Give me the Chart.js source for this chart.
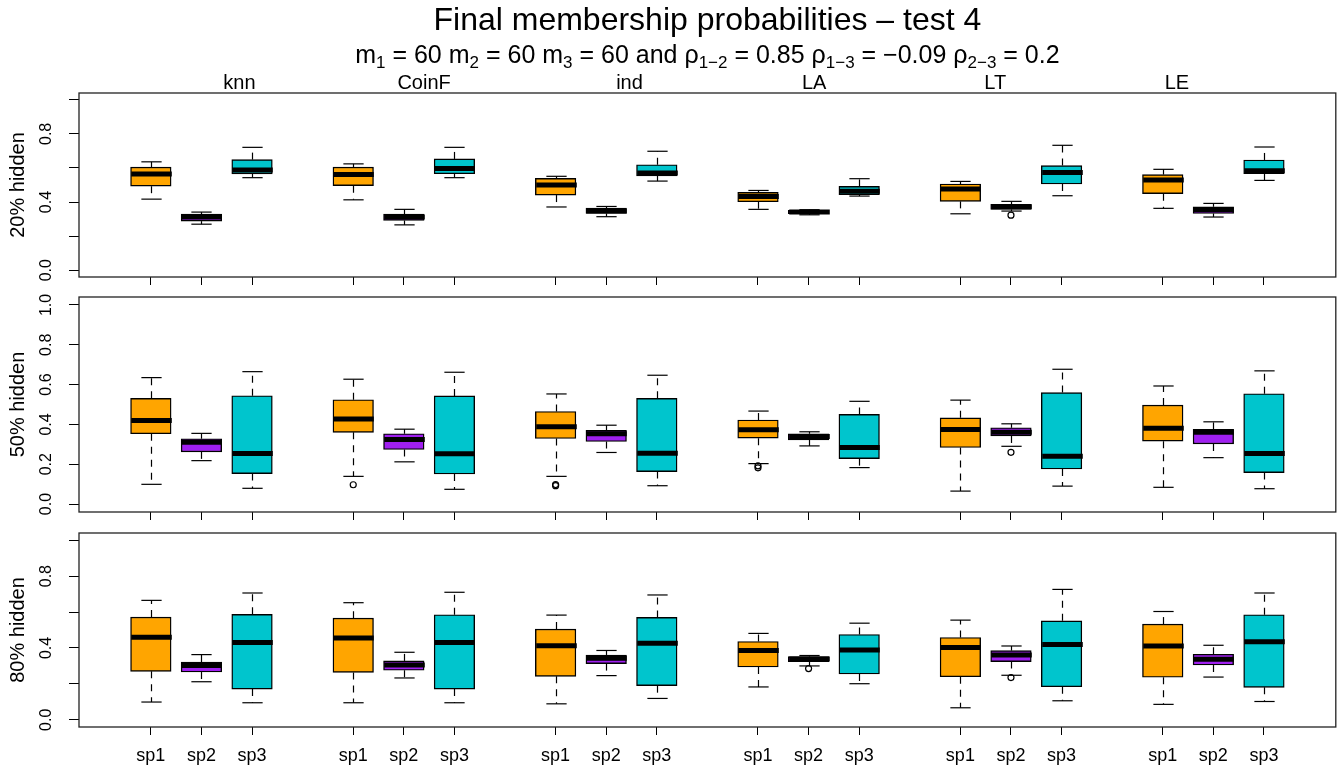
<!DOCTYPE html>
<html><head><meta charset="utf-8">
<script src="https://cdn.jsdelivr.net/npm/chart.js@4.4.1/dist/chart.umd.min.js"></script>
<style>
html,body{margin:0;padding:0;background:#fff;overflow:hidden;}
#wrap{position:relative;width:1341px;height:768px;background:#fff;}
canvas{position:absolute;left:0;}
</style></head><body>
<div id="wrap">
<canvas id="c1" width="1341" height="290" style="top:0px"></canvas>
<canvas id="c2" width="1341" height="230" style="top:290px"></canvas>
<canvas id="c3" width="1341" height="248" style="top:520px"></canvas>
</div>
<script>
// ---------------- data ----------------
const methods = ['knn', 'CoinF', 'ind', 'LA', 'LT', 'LE'];
const species = ['sp1', 'sp2', 'sp3'];
const panelTitles = ['20% hidden', '50% hidden', '80% hidden'];
const yTickValues = [0, 0.2, 0.4, 0.6, 0.8, 1.0];
const yTickLabelsSparse = ['0.0', '', '0.4', '', '0.8', ''];
const yTickLabelsFull = ['0.0', '0.2', '0.4', '0.6', '0.8', '1.0'];
const groupLabelAt = [2.75, 6.40, 10.46, 14.11, 17.69, 21.28];

// five-number summaries [lower whisker, Q1, median, Q3, upper whisker], one per method
const h20_sp1 = [[0.417,0.493,0.564,0.605,0.636],[0.413,0.496,0.562,0.605,0.624],[0.371,0.441,0.500,0.539,0.551],[0.357,0.402,0.433,0.457,0.468],[0.331,0.404,0.476,0.506,0.521],[0.363,0.449,0.529,0.561,0.592]];
const h20_sp2 = [[0.270,0.288,0.312,0.329,0.341],[0.266,0.292,0.312,0.329,0.357],[0.314,0.333,0.347,0.365,0.374],[0.325,0.331,0.341,0.351,0.355],[0.347,0.357,0.372,0.386,0.404],[0.312,0.333,0.355,0.372,0.392]];
const h20_sp3 = [[0.543,0.565,0.588,0.649,0.721],[0.543,0.566,0.597,0.653,0.721],[0.523,0.553,0.570,0.619,0.698],[0.435,0.443,0.464,0.492,0.537],[0.437,0.506,0.574,0.614,0.733],[0.527,0.566,0.584,0.647,0.723]];

const h50_sp1 = [[0.099,0.353,0.420,0.531,0.635],[0.139,0.360,0.427,0.524,0.627],[0.139,0.329,0.388,0.465,0.553],[0.203,0.331,0.373,0.422,0.467],[0.065,0.284,0.374,0.433,0.522],[0.084,0.316,0.381,0.497,0.593]];
const h50_sp2 = [[0.218,0.262,0.311,0.328,0.355],[0.212,0.274,0.324,0.353,0.376],[0.259,0.314,0.353,0.370,0.396],[0.292,0.322,0.339,0.353,0.363],[0.290,0.342,0.361,0.383,0.403],[0.233,0.302,0.361,0.375,0.413]];
const h50_sp3 = [[0.079,0.153,0.254,0.544,0.665],[0.074,0.151,0.252,0.543,0.662],[0.092,0.163,0.255,0.531,0.647],[0.183,0.228,0.284,0.450,0.516],[0.090,0.176,0.240,0.560,0.677],[0.077,0.158,0.254,0.554,0.669]];

const h80_sp1 = [[0.099,0.270,0.460,0.572,0.665],[0.095,0.264,0.456,0.566,0.652],[0.089,0.242,0.413,0.505,0.583],[0.183,0.294,0.386,0.436,0.481],[0.067,0.240,0.402,0.458,0.555],[0.086,0.237,0.411,0.533,0.603]];
const h80_sp2 = [[0.212,0.266,0.302,0.322,0.363],[0.233,0.276,0.305,0.328,0.376],[0.246,0.313,0.343,0.361,0.386],[0.300,0.324,0.339,0.352,0.358],[0.248,0.324,0.361,0.385,0.411],[0.238,0.305,0.337,0.365,0.415]];
const h80_sp3 = [[0.095,0.171,0.430,0.587,0.706],[0.095,0.171,0.430,0.585,0.710],[0.119,0.190,0.426,0.570,0.695],[0.201,0.255,0.388,0.475,0.538],[0.106,0.184,0.419,0.551,0.726],[0.102,0.181,0.434,0.585,0.706]];

// outliers: [method, species, value]
const out20 = [['LT','sp2',0.323]];
const out50 = [['CoinF','sp1',0.097],['ind','sp1',0.092],['ind','sp1',0.098],['LA','sp1',0.192],['LA','sp1',0.182],['LT','sp2',0.260]];
const out80 = [['LA','sp2',0.285],['LT','sp2',0.235]];

// ---------------- styling / layout ----------------
const FONT = '"Liberation Sans", Arial, Helvetica, sans-serif';
const COLORS = ['#FFA500', '#A020F0', '#00C5CD'];
const W = 1341, PLOT_LEFT = 79, PAD_RIGHT = 3;
const XMIN = -0.42, XMAX = 24.42, YMIN = -0.04, YMAX = 1.04;
const UNIT = (W - PAD_RIGHT - PLOT_LEFT) / (XMAX - XMIN);
const BOXW = 0.8 * UNIT;

function pos(mi, si) { return 4 * mi + si + 1; }

const titleMain = 'Final membership probabilities \u2013 test 4';
const subtitleParts = [
  ['m',0],['1',1],[' = 60 ',0],['m',0],['2',1],[' = 60 ',0],['m',0],['3',1],[' = 60 and ',0],
  ['\u03C1',0],['1\u22122',1],[' = 0.85 ',0],['\u03C1',0],['1\u22123',1],[' = \u22120.09 ',0],
  ['\u03C1',0],['2\u22123',1],[' = 0.2',0]
];

const boxExtras = {
  id: 'boxExtras',
  afterDatasetsDraw(chart) {
    const cfg = chart.options.plugins.boxExtras;
    const {ctx, chartArea: ca} = chart;
    const x = chart.scales.x, y = chart.scales.y;
    const capHalf = 0.25 * BOXW, half = 0.5 * BOXW;
    ctx.save();
    ctx.strokeStyle = '#000';
    ctx.lineCap = 'butt';
    const seg = (x1, y1, x2, y2) => { ctx.beginPath(); ctx.moveTo(x1, y1); ctx.lineTo(x2, y2); ctx.stroke(); };
    cfg.summaries.forEach((arr, si) => arr.forEach((s, mi) => {
      const px = Math.round(x.getPixelForValue(pos(mi, si))) + 0.5;
      const [lo, q1, med, q3, hi] = s;
      const yLo = y.getPixelForValue(lo), yQ1 = y.getPixelForValue(q1), yMed = y.getPixelForValue(med),
            yQ3 = y.getPixelForValue(q3), yHi = y.getPixelForValue(hi);
      ctx.lineWidth = 1.2;
      ctx.setLineDash([7, 6]);
      seg(px, yQ3, px, yHi);
      seg(px, yQ1, px, yLo);
      ctx.setLineDash([]);
      seg(px - capHalf, yHi, px + capHalf, yHi);
      seg(px - capHalf, yLo, px + capHalf, yLo);
      ctx.lineWidth = 5;
      seg(px - half, yMed, px + half, yMed);
    }));
    // frame
    ctx.lineWidth = 1.3;
    ctx.strokeStyle = '#222';
    ctx.strokeRect(ca.left, ca.top, ca.right - ca.left, ca.bottom - ca.top);
    // y tick labels (rotated, as in R)
    ctx.fillStyle = '#000';
    ctx.font = '16px ' + FONT;
    ctx.textAlign = 'center';
    ctx.textBaseline = 'middle';
    yTickValues.forEach((v, i) => {
      const lab = cfg.yLabels[i];
      if (!lab) return;
      ctx.save();
      ctx.translate(47, y.getPixelForValue(v));
      ctx.rotate(-Math.PI / 2);
      ctx.fillText(lab, 0, 0);
      ctx.restore();
    });
    // y axis title
    ctx.save();
    ctx.font = '20px ' + FONT;
    ctx.translate(18, (ca.top + ca.bottom) / 2);
    ctx.rotate(-Math.PI / 2);
    ctx.fillText(cfg.yTitle, 0, 0);
    ctx.restore();
    // header (titles + method labels) only on first panel
    if (cfg.header) {
      const cx = (ca.left + ca.right) / 2;
      ctx.textBaseline = 'alphabetic';
      ctx.textAlign = 'center';
      ctx.font = '32px ' + FONT;
      ctx.fillText(titleMain, cx, 30);
      // subtitle with subscripts
      const big = 25, small = 17;
      let total = 0;
      subtitleParts.forEach(([t, sub]) => { ctx.font = (sub ? small : big) + 'px ' + FONT; total += ctx.measureText(t).width; });
      let xx = cx - total / 2;
      ctx.textAlign = 'left';
      subtitleParts.forEach(([t, sub]) => {
        ctx.font = (sub ? small : big) + 'px ' + FONT;
        ctx.fillText(t, xx, sub ? 68 : 63);
        xx += ctx.measureText(t).width;
      });
      ctx.textAlign = 'center';
      ctx.font = '20px ' + FONT;
      methods.forEach((m, i) => ctx.fillText(m, x.getPixelForValue(groupLabelAt[i]), 89));
    }
    ctx.restore();
  }
};

function makePanel(id, sums, outs, yTitle, yLabels, padTop, xAxisH, showX, header) {
  const datasets = sums.map((arr, si) => ({
    type: 'bar',
    label: species[si],
    data: arr.map((s, mi) => ({x: pos(mi, si), y: [s[1], s[3]]})),
    backgroundColor: COLORS[si],
    borderColor: '#000',
    borderWidth: 1.4,
    borderSkipped: false,
    barThickness: BOXW,
    grouped: false
  }));
  datasets.push({
    type: 'scatter',
    label: 'outliers',
    data: outs.map(([m, s, v]) => ({x: pos(methods.indexOf(m), species.indexOf(s)), y: v})),
    pointRadius: 3,
    pointBackgroundColor: 'rgba(0,0,0,0)',
    pointBorderColor: '#000',
    pointBorderWidth: 1.2
  });
  return new Chart(document.getElementById(id), {
    type: 'bar',
    data: {datasets},
    plugins: [boxExtras],
    options: {
      responsive: false,
      animation: false,
      events: [],
      devicePixelRatio: 1,
      layout: {padding: {left: 0, right: PAD_RIGHT, top: padTop, bottom: 0}},
      plugins: {
        legend: {display: false},
        tooltip: {enabled: false},
        boxExtras: {summaries: sums, yTitle, yLabels, header}
      },
      scales: {
        x: {
          type: 'linear', min: XMIN, max: XMAX, offset: false,
          afterBuildTicks: (sc) => {
            const t = [];
            methods.forEach((m, mi) => species.forEach((s, si) => t.push({value: pos(mi, si)})));
            sc.ticks = t;
          },
          afterFit: (sc) => { sc.height = xAxisH; },
          grid: {display: true, offset: false, drawOnChartArea: false, drawTicks: true, tickLength: 8, color: '#000', lineWidth: 1},
          border: {display: false},
          ticks: {
            display: showX, autoSkip: false, maxRotation: 0, minRotation: 0, padding: 10,
            color: '#000', font: {family: FONT, size: 18},
            callback: (v) => species[(v - 1) % 4]
          }
        },
        y: {
          type: 'linear', min: YMIN, max: YMAX,
          afterBuildTicks: (sc) => { sc.ticks = yTickValues.map(v => ({value: v})); },
          afterFit: (sc) => { sc.width = PLOT_LEFT; },
          grid: {display: true, offset: false, drawOnChartArea: false, drawTicks: true, tickLength: 10, color: '#000', lineWidth: 1},
          border: {display: false},
          ticks: {display: false}
        }
      }
    }
  });
}

makePanel('c1', [h20_sp1, h20_sp2, h20_sp3], out20, panelTitles[0], yTickLabelsSparse, 93, 13, false, true);
makePanel('c2', [h50_sp1, h50_sp2, h50_sp3], out50, panelTitles[1], yTickLabelsFull, 7, 8, false, false);
makePanel('c3', [h80_sp1, h80_sp2, h80_sp3], out80, panelTitles[2], yTickLabelsSparse, 13, 41, true, false);
</script>
</body></html>
